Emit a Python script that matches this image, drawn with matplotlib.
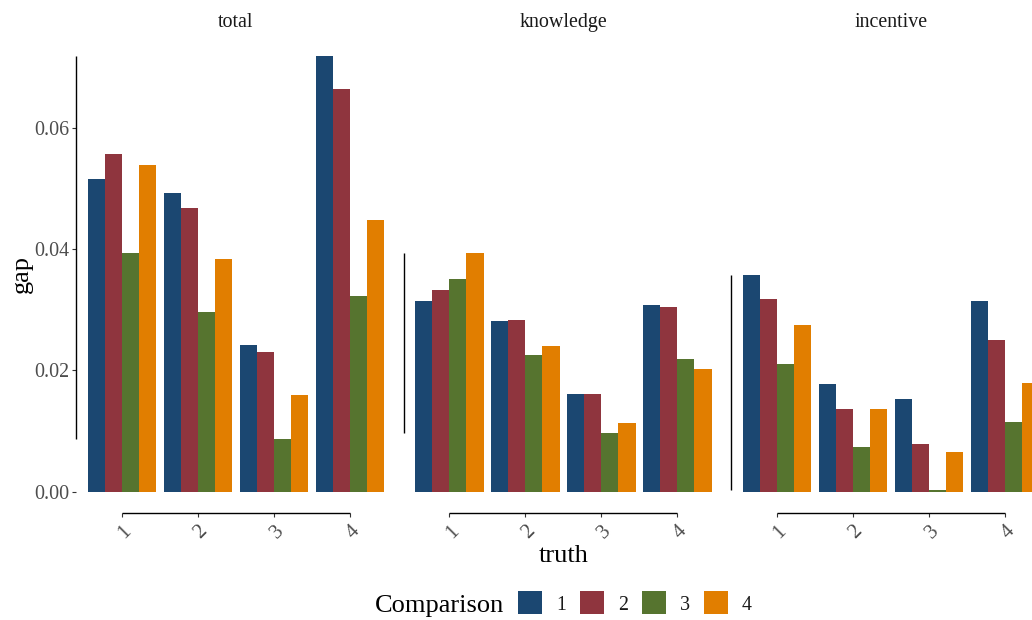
import matplotlib
matplotlib.use("Agg")
import matplotlib.pyplot as plt
from matplotlib.patches import Rectangle
from matplotlib.transforms import ScaledTranslation
import numpy as np

plt.rcParams["font.family"] = ["Liberation Serif", "DejaVu Serif"]

# ---- data ----
FACETS = ["total", "knowledge", "incentive"]
TRUTH = ["1", "2", "3", "4"]
COMPARISONS = ["1", "2", "3", "4"]

# rows = comparison 1..4, columns = truth 1..4
gap_total = [
    [0.0515, 0.0492, 0.0242, 0.0717],
    [0.0556, 0.0467, 0.0230, 0.0663],
    [0.0394, 0.0296, 0.0087, 0.0322],
    [0.0538, 0.0383, 0.0159, 0.0448],
]
gap_knowledge = [
    [0.0314, 0.0281, 0.0161, 0.0308],
    [0.0332, 0.0283, 0.0161, 0.0304],
    [0.0350, 0.0225, 0.0097, 0.0219],
    [0.0393, 0.0240, 0.0113, 0.0202],
]
gap_incentive = [
    [0.0357, 0.0177, 0.0153, 0.0314],
    [0.0317, 0.0136, 0.0079, 0.0250],
    [0.0210, 0.0074, 0.0003, 0.0115],
    [0.0275, 0.0136, 0.0065, 0.0179],
]
Y_TICKS = [0.00, 0.02, 0.04, 0.06]

COLORS = ["#1B4771", "#8F353E", "#56742F", "#E17E00"]
INK = "#1A1A1A"
GREY = "#4D4D4D"

W, H = 1032, 620
fig = plt.figure(figsize=(W / 100, H / 100), dpi=100)


def fig_box(left, top, width, height):
    return [left / W, 1 - (top + height) / H, width / W, height / H]


panels = [np.array(gap_total), np.array(gap_knowledge), np.array(gap_incentive)]
ymax = max(p.max() for p in panels)
ylo, yhi = -0.05 * ymax, 1.05 * ymax

px_per_unit = 6070.0
zero_px = 491.7
panel_top = zero_px - yhi * px_per_unit
panel_h = (yhi - ylo) * px_per_unit
panel_w = 4.2 * 76.0
lefts = [76.4, 403.7, 731.4]

x = np.arange(1, len(TRUTH) + 1)
bw = 0.9 / len(COMPARISONS)
nudge = ScaledTranslation(3 / 100, -2 / 100, fig.dpi_scale_trans)

for i, (name, data) in enumerate(zip(FACETS, panels)):
    ax = fig.add_axes(fig_box(lefts[i], panel_top, panel_w, panel_h))
    for j, comp in enumerate(COMPARISONS):
        ax.bar(x + (j - 1.5) * bw, data[j], width=bw, color=COLORS[j],
               linewidth=0, label=comp)
    ax.set_xlim(0.4, 4.6)
    ax.set_ylim(ylo, yhi)
    for s in ax.spines.values():
        s.set_visible(False)

    # range frames
    ax.plot([0.4, 0.4], [data.min(), data.max()], color="black", lw=1.0,
            clip_on=False, solid_capstyle="butt")
    ax.plot([1, 4], [ylo, ylo], color="black", lw=1.0, clip_on=False,
            solid_capstyle="butt")

    ax.set_xticks(x)
    ax.set_xticklabels(TRUTH, rotation=45, ha="center", va="top")
    ax.tick_params(axis="x", length=2.75, width=0.8, color="#333333", pad=1.5,
                   labelsize=15, labelcolor=GREY)
    for lab in ax.get_xticklabels():
        lab.set_transform(lab.get_transform() + nudge)
    if i == 0:
        ax.set_yticks(Y_TICKS)
        ax.set_yticklabels([f"{v:.2f}" for v in Y_TICKS])
        ax.tick_params(axis="y", length=2.75, width=0.8, color="#333333",
                       pad=2.5, labelsize=14.4, labelcolor=GREY)
    else:
        ax.set_yticks([])

    cx = lefts[i] + panel_w / 2
    fig.text(cx / W, 1 - 27 / H, name, ha="center", va="baseline",
             fontsize=14.4, color=INK)

# axis titles
fig.text(22 / W, 1 - 274 / H, "gap", rotation=90, ha="center", va="center",
         fontsize=19, color="black")
fig.text((lefts[1] + panel_w / 2) / W, 1 - 562 / H, "truth", ha="center",
         va="baseline", fontsize=19, color="black")

# legend
fig.text(375 / W, 1 - 612 / H, "Comparison", ha="left", va="baseline",
         fontsize=19, color="black")
key_lefts = [518, 580, 642, 704]
for kl, comp, col in zip(key_lefts, COMPARISONS, COLORS):
    fig.patches.append(Rectangle((kl / W, 1 - 614 / H), 24 / W, 23 / H,
                                 transform=fig.transFigure, facecolor=col,
                                 edgecolor="none"))
    fig.text((kl + 38) / W, 1 - 610 / H, comp, ha="left", va="baseline",
             fontsize=14.4, color=INK)

fig.savefig("out.png", dpi=100)
